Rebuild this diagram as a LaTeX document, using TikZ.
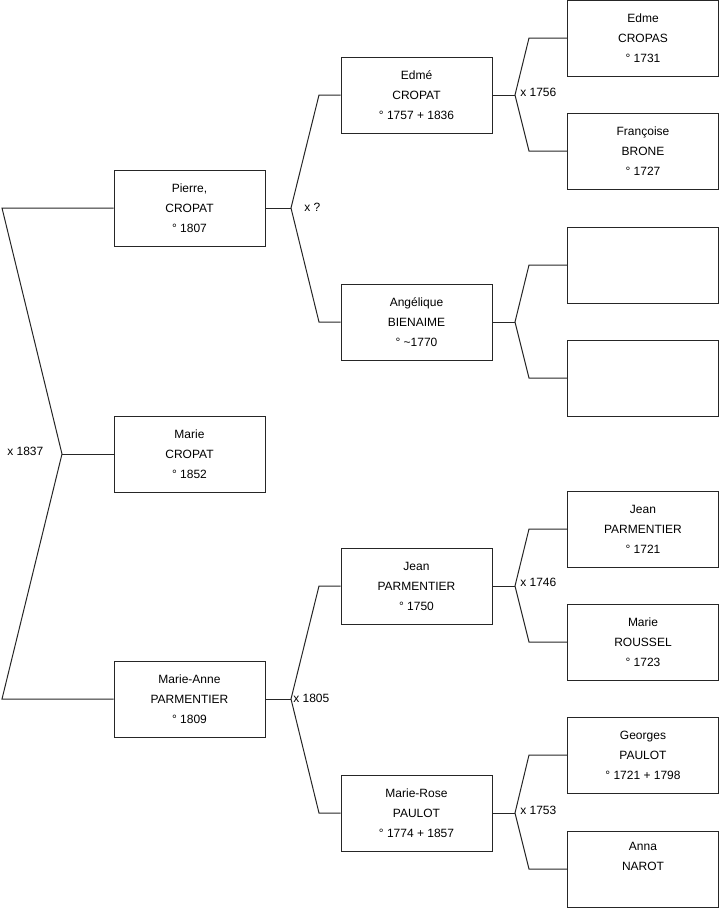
\documentclass[tikz,border=0pt]{standalone}
\usepackage{fontspec}
\setmainfont{Liberation Sans}
\begin{document}
\begin{tikzpicture}[x=0.75pt,y=-0.75pt,
  person/.style={draw=black!85,line width=0.75pt,minimum width=151*0.75pt,minimum height=76*0.75pt,inner sep=0pt,align=center,font=\fontsize{9}{15}\selectfont},
  link/.style={draw=black!85,line width=0.75pt},
  lbl/.style={anchor=west,inner sep=0pt,font=\fontsize{9}{11}\selectfont}]
\useasboundingbox (0,0) rectangle (719,908);
% level 1
\node[person] (pierre) at (189.5,208) {Pierre,\\CROPAT\\° 1807};
\node[person] (marie) at (189.5,454) {Marie\\CROPAT\\° 1852};
\node[person] (marieanne) at (189.5,699) {Marie-Anne\\PARMENTIER\\° 1809};
% level 2
\node[person] (edme2) at (416.5,95) {Edmé\\CROPAT\\° 1757 + 1836};
\node[person] (angelique) at (416.5,322) {Angélique\\BIENAIME\\° \textasciitilde1770};
\node[person] (jean2) at (416.5,586) {Jean\\PARMENTIER\\° 1750};
\node[person] (marierose) at (416.5,813) {Marie-Rose\\PAULOT\\° 1774 + 1857};
% level 3
\node[person] (edme3) at (643,38) {Edme\\CROPAS\\° 1731};
\node[person] (francoise) at (643,151) {Françoise\\BRONE\\° 1727};
\node[person] (e1) at (643,265) {};
\node[person] (e2) at (643,378) {};
\node[person] (jean3) at (643,529) {Jean\\PARMENTIER\\° 1721};
\node[person] (marier) at (643,642) {Marie\\ROUSSEL\\° 1723};
\node[person] (georges) at (643,755) {Georges\\PAULOT\\° 1721 + 1798};
\node[person] (anna) at (643,869) {Anna\\NAROT\\\strut};
% fork coordinates
\coordinate (f0) at (62,454);
\coordinate (f0a) at (2,208);
\coordinate (f0b) at (2,699);
\coordinate (f1) at (291,208);
\coordinate (f1a) at (319,95);
\coordinate (f1b) at (319,322);
\coordinate (f2) at (291,699);
\coordinate (f2a) at (319,586);
\coordinate (f2b) at (319,813);
\coordinate (g1) at (515,95);
\coordinate (g1a) at (529,38);
\coordinate (g1b) at (529,151);
\coordinate (g2) at (515,322);
\coordinate (g2a) at (529,265);
\coordinate (g2b) at (529,378);
\coordinate (g3) at (515,586);
\coordinate (g3a) at (529,529);
\coordinate (g3b) at (529,642);
\coordinate (g4) at (515,813);
\coordinate (g4a) at (529,755);
\coordinate (g4b) at (529,869);
% connectors
\draw[link] (marie.west) -- (f0);
\draw[link] (pierre.west) -- (f0a) -- (f0) -- (f0b) -- (marieanne.west);
\draw[link] (pierre.east) -- (f1);
\draw[link] (edme2.west) -- (f1a) -- (f1) -- (f1b) -- (angelique.west);
\draw[link] (marieanne.east) -- (f2);
\draw[link] (jean2.west) -- (f2a) -- (f2) -- (f2b) -- (marierose.west);
\draw[link] (edme2.east) -- (g1);
\draw[link] (edme3.west) -- (g1a) -- (g1) -- (g1b) -- (francoise.west);
\draw[link] (angelique.east) -- (g2);
\draw[link] (e1.west) -- (g2a) -- (g2) -- (g2b) -- (e2.west);
\draw[link] (jean2.east) -- (g3);
\draw[link] (jean3.west) -- (g3a) -- (g3) -- (g3b) -- (marier.west);
\draw[link] (marierose.east) -- (g4);
\draw[link] (georges.west) -- (g4a) -- (g4) -- (g4b) -- (anna.west);
% marriage labels
\node[lbl] (m0) at (7,451) {x 1837};
\node[lbl] (m1) at (304,207) {x ?};
\node[lbl] (m2) at (293,698) {x 1805};
\node[lbl] (m3) at (520,92) {x 1756};
\node[lbl] (m4) at (520,582) {x 1746};
\node[lbl] (m5) at (520,810) {x 1753};
\end{tikzpicture}
\end{document}
